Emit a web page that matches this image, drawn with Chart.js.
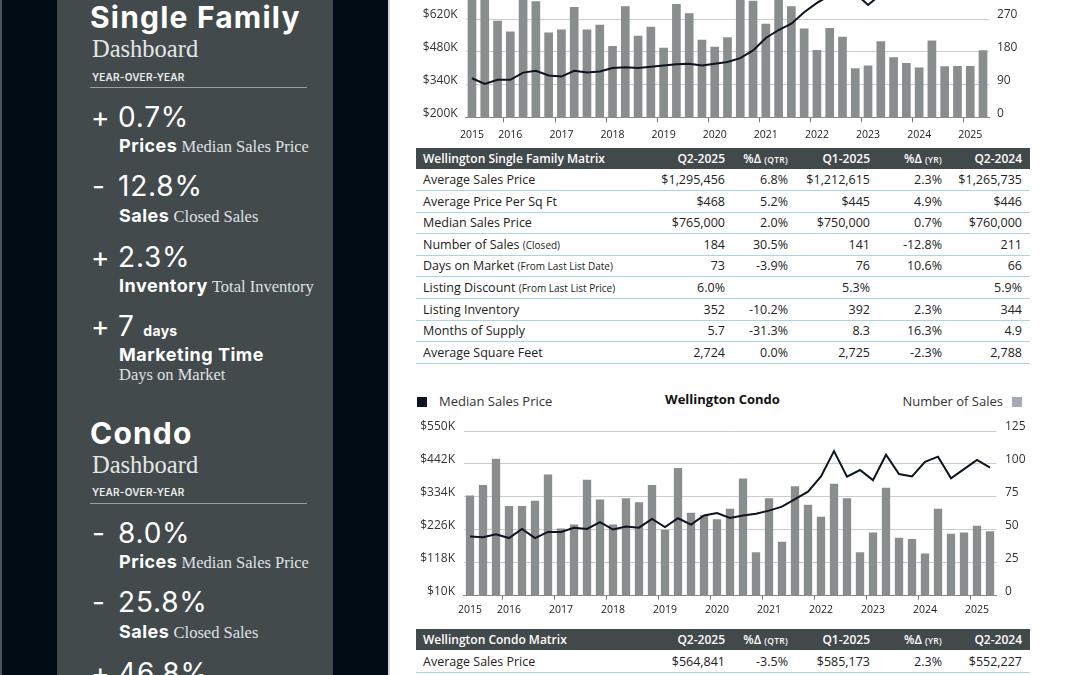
<!DOCTYPE html>
<html>
<head>
<meta charset="utf-8">
<title>Wellington Dashboard</title>
<script src="https://cdn.jsdelivr.net/npm/chart.js@4.4.1/dist/chart.umd.min.js"></script>
<style>
  html, body { margin: 0; padding: 0; }
  body { width: 1080px; height: 675px; overflow: hidden; position: relative; background: #fff; font-family: "Open Sans", sans-serif; color: #222; }
  .a { position: absolute; white-space: nowrap; line-height: 1.2; }
  #side { position: absolute; left: 0; top: 0; width: 388px; height: 675px; background: #010b14; }
  #lefte { position: absolute; left: 0; top: 0; width: 2px; height: 675px; background: #4c5256; }
  #edge { position: absolute; left: 388px; top: 0; width: 2px; height: 675px; background: #d3d6da; }
  #panel { position: absolute; left: 57px; top: 0; width: 276px; height: 675px; background: #434a4c; }
  .ttl { font-family: Inter, sans-serif; font-weight: 700; font-size: 30px; letter-spacing: 1.2px; color: #fff; }
  .dash { font-family: "Liberation Serif", serif; font-size: 24.5px; color: #e4e6e6; }
  .yoy { font-family: Inter, sans-serif; font-weight: 600; font-size: 10px; letter-spacing: .2px; color: #eceeee; }
  .rule { position: absolute; left: 90px; width: 217px; height: 1px; background: #9aa0a2; }
  .big { font-family: Inter, sans-serif; font-weight: 400; font-size: 28px; letter-spacing: .8px; color: #fff; }
  .lbl { font-family: Inter, sans-serif; font-weight: 700; font-size: 18px; letter-spacing: .5px; color: #fff; }
  .ser { font-family: "Liberation Serif", serif; font-size: 16.5px; letter-spacing: 0; color: #dfe2e2; }
  .days { font-family: Inter, sans-serif; font-weight: 700; font-size: 14px; letter-spacing: .3px; }
  .thead { position: absolute; left: 416px; width: 614px; height: 21px; background: #42494b; color: #fff; font-weight: 600; font-size: 12px; }
  .trow { position: absolute; left: 416px; width: 614px; height: 20.6px; border-bottom: 1px solid #a9d5e3; font-size: 12.5px; color: #222; }
  .thead .c { line-height: 21px; }
  .c { position: absolute; top: 0.5px; line-height: 20.6px; white-space: nowrap; }
  .sm { font-size: 10px; }
  .sc { font-size: 8.5px; letter-spacing: .3px; }
  .leg { font-size: 13px; color: #333; }
  .legt { font-size: 13px; font-weight: 700; color: #111; }
  canvas { position: absolute; }
</style>
</head>
<body>
<div id="side"></div>
<div id="lefte"></div>
<div id="panel"></div>
<div id="edge"></div>

<!-- single family side panel -->
<div class="a ttl" style="left:90px" data-bl="28.3">Single Family</div>
<div class="a dash" style="left:92px" data-bl="57.3">Dashboard</div>
<div class="a yoy" style="left:92px" data-bl="81">YEAR-OVER-YEAR</div>
<div class="rule" style="top:87px"></div>
<div class="a big" style="left:91px" data-bl="126.7">+</div>
<div class="a big" style="left:118px" data-bl="126.7">0.7%</div>
<div class="a" style="left:119px" data-bl="152.3"><span class="lbl">Prices</span> <span class="ser">Median Sales Price</span></div>
<div class="a big" style="left:92px" data-bl="196.3">-</div>
<div class="a big" style="left:118px" data-bl="196.3">12.8%</div>
<div class="a" style="left:119px" data-bl="221.7"><span class="lbl">Sales</span> <span class="ser">Closed Sales</span></div>
<div class="a big" style="left:91px" data-bl="266.7">+</div>
<div class="a big" style="left:118px" data-bl="266.7">2.3%</div>
<div class="a" style="left:119px" data-bl="291.7"><span class="lbl">Inventory</span> <span class="ser">Total Inventory</span></div>
<div class="a big" style="left:91px" data-bl="336">+</div>
<div class="a big" style="left:118px" data-bl="336">7 <span class="days">days</span></div>
<div class="a lbl" style="left:119px" data-bl="361">Marketing Time</div>
<div class="a ser" style="left:119px" data-bl="380">Days on Market</div>

<!-- condo side panel -->
<div class="a ttl" style="left:90px" data-bl="444.3">Condo</div>
<div class="a dash" style="left:92px" data-bl="473.3">Dashboard</div>
<div class="a yoy" style="left:92px" data-bl="496">YEAR-OVER-YEAR</div>
<div class="rule" style="top:503px"></div>
<div class="a big" style="left:92px" data-bl="542.7">-</div>
<div class="a big" style="left:118px" data-bl="542.7">8.0%</div>
<div class="a" style="left:119px" data-bl="568.3"><span class="lbl">Prices</span> <span class="ser">Median Sales Price</span></div>
<div class="a big" style="left:92px" data-bl="612.3">-</div>
<div class="a big" style="left:118px" data-bl="612.3">25.8%</div>
<div class="a" style="left:119px" data-bl="637.7"><span class="lbl">Sales</span> <span class="ser">Closed Sales</span></div>
<div class="a big" style="left:91px" data-bl="682.5">+</div>
<div class="a big" style="left:118px" data-bl="682.5">46.8%</div>

<!-- charts -->
<canvas id="sfChart" width="620" height="225" style="left:410px;top:-80px;width:620px;height:225px"></canvas>

<div style="position:absolute;left:417px;top:396.5px;width:10px;height:10px;background:#0b1520"></div>
<div class="a leg" style="left:439px" data-bl="405.5">Median Sales Price</div>
<div class="a legt" style="left:722.5px;transform:translateX(-50%)" data-bl="404">Wellington Condo</div>
<div class="a leg" style="right:77px" data-bl="405.5">Number of Sales</div>
<div style="position:absolute;left:1012px;top:397px;width:10px;height:10px;background:#a3aab2"></div>
<canvas id="condoChart" width="620" height="205" style="left:410px;top:415px;width:620px;height:205px"></canvas>

<div id="tables"></div>

<script>
// quarters on the x axis
const quarters = [
  '2015 Q2', '2015 Q3', '2015 Q4',
  '2016 Q1', '2016 Q2', '2016 Q3', '2016 Q4',
  '2017 Q1', '2017 Q2', '2017 Q3', '2017 Q4',
  '2018 Q1', '2018 Q2', '2018 Q3', '2018 Q4',
  '2019 Q1', '2019 Q2', '2019 Q3', '2019 Q4',
  '2020 Q1', '2020 Q2', '2020 Q3', '2020 Q4',
  '2021 Q1', '2021 Q2', '2021 Q3', '2021 Q4',
  '2022 Q1', '2022 Q2', '2022 Q3', '2022 Q4',
  '2023 Q1', '2023 Q2', '2023 Q3', '2023 Q4',
  '2024 Q1', '2024 Q2', '2024 Q3', '2024 Q4',
  '2025 Q1', '2025 Q2'
];

// single family: number of sales (right axis) and median price in $K (left axis)
const sfSales = [330, 345, 265,
  236, 336, 319, 233,
  241, 303, 241, 254,
  196, 305, 224, 249,
  191, 311, 286, 213,
  194, 220, 352, 320,
  257, 340, 305, 244,
  185, 245, 221, 135,
  142, 209, 165, 149,
  137, 211, 140, 141,
  141, 184];
const sfPrice = [367, 343, 360,
  360, 391, 399, 379,
  374, 399, 391, 396,
  411, 414, 411, 416,
  421, 427, 429, 421,
  429, 436, 453, 486,
  539, 573, 600, 649,
  689, 720, 740, 730,
  680, 725, 745, 740,
  760, 760, 755, 770,
  750, 765];

// condo
const condoSales = [76, 84, 104,
  68, 68, 72, 92,
  51, 54, 88, 73,
  54, 74, 71, 84,
  50, 97, 63, 61,
  58, 66, 89, 33,
  74, 41, 83, 69,
  60, 85, 74, 33,
  48, 82, 44, 43,
  32, 66, 47, 48,
  53, 49];
const condoPrice = [204, 202, 211,
  199, 229, 199, 219,
  219, 233, 229, 251,
  227, 237, 233, 262,
  235, 264, 243, 273,
  281, 265, 273, 279,
  289, 302, 327, 351,
  401, 484, 400, 422,
  389, 472, 409, 401,
  449, 466, 395, 425,
  455, 430];

// tables
const matrixCols = ['Q2-2025', '%Δ|QTR', 'Q1-2025', '%Δ|YR', 'Q2-2024'];
const sfRowLabels = ['Average Sales Price|', 'Average Price Per Sq Ft|', 'Median Sales Price|',
  'Number of Sales|(Closed)', 'Days on Market|(From Last List Date)', 'Listing Discount|(From Last List Price)',
  'Listing Inventory|', 'Months of Supply|', 'Average Square Feet|'];
const sfQ22025 = ['$1,295,456', '$468', '$765,000', '184', '73', '6.0%', '352', '5.7', '2,724'];
const sfQtrChg = ['6.8%', '5.2%', '2.0%', '30.5%', '-3.9%', '', '-10.2%', '-31.3%', '0.0%'];
const sfQ12025 = ['$1,212,615', '$445', '$750,000', '141', '76', '5.3%', '392', '8.3', '2,725'];
const sfYrChg = ['2.3%', '4.9%', '0.7%', '-12.8%', '10.6%', '', '2.3%', '16.3%', '-2.3%'];
const sfQ22024 = ['$1,265,735', '$446', '$760,000', '211', '66', '5.9%', '344', '4.9', '2,788'];

const condoRowLabels = ['Average Sales Price|'];
const condoQ22025 = ['$564,841'];
const condoQtrChg = ['-3.5%'];
const condoQ12025 = ['$585,173'];
const condoYrChg = ['2.3%'];
const condoQ22024 = ['$552,227'];

const colRight = [305, 242, 160, 88, 8];   // distance of each column's right edge from table end

function headCell(txt) {
  const p = txt.split('|');
  return p.length > 1 ? p[0] + ' <span class="sc">(' + p[1] + ')</span>' : p[0];
}

function buildTable(top, title, labels, cols) {
  const box = document.getElementById('tables');
  let html = '<div class="thead" style="top:' + top + 'px"><div class="c" style="left:7px;top:0">' + title + '</div>';
  matrixCols.forEach((c, i) => {
    html += '<div class="c" style="right:' + colRight[i] + 'px;top:0">' + headCell(c) + '</div>';
  });
  html += '</div>';
  labels.forEach((lab, r) => {
    const p = lab.split('|');
    const y = top + 22 + r * 21.6;
    html += '<div class="trow" style="top:' + y + 'px"><div class="c" style="left:7px">' + p[0] +
      (p[1] ? ' <span class="sm">' + p[1] + '</span>' : '') + '</div>';
    cols.forEach((col, i) => {
      html += '<div class="c" style="right:' + colRight[i] + 'px">' + col[r] + '</div>';
    });
    html += '</div>';
  });
  box.insertAdjacentHTML('beforeend', html);
}

buildTable(147.5, 'Wellington Single Family Matrix', sfRowLabels, [sfQ22025, sfQtrChg, sfQ12025, sfYrChg, sfQ22024]);
buildTable(629, 'Wellington Condo Matrix', condoRowLabels, [condoQ22025, condoQtrChg, condoQ12025, condoYrChg, condoQ22024]);

// place text by its baseline
function placeText() {
  document.querySelectorAll('[data-bl]').forEach(el => {
    let m = el.querySelector('.blm');
    if (!m) {
      m = document.createElement('span');
      m.className = 'blm';
      m.style.cssText = 'display:inline-block;width:0;height:0;vertical-align:baseline';
      el.appendChild(m);
    }
    el.style.top = (parseFloat(el.dataset.bl) - m.offsetTop) + 'px';
  });
}

Chart.defaults.font.family = '"Open Sans", sans-serif';

const yearLabel = i => (i === 0 || i % 4 === 3) ? quarters[i].slice(0, 4) : '';

function makeChart(id, sales, price, o) {
  return new Chart(document.getElementById(id), {
    data: {
      labels: quarters,
      datasets: [
        { type: 'line', data: price, yAxisID: 'y', borderColor: '#0c1420', borderWidth: 2,
          pointRadius: 0, tension: 0, order: 0 },
        { type: 'bar', data: sales, yAxisID: 'y1', backgroundColor: '#8a8d8d',
          barPercentage: o.bar, categoryPercentage: 1, order: 1 }
      ]
    },
    options: {
      responsive: false,
      animation: false,
      layout: { padding: { top: o.padTop, left: 0, right: 0, bottom: 0 } },
      plugins: { legend: { display: false }, tooltip: { enabled: false } },
      scales: {
        x: {
          offset: true,
          grid: { drawOnChartArea: false, drawTicks: true, tickLength: o.tickLen,
            color: c => (c.index % 4 === 3) ? '#777' : 'rgba(0,0,0,0)' },
          border: { color: '#8c8c8c' },
          ticks: { autoSkip: false, maxRotation: 0, padding: o.xPad, color: '#222',
            font: { size: 10.5 }, callback: (v, i) => yearLabel(i) },
          afterFit: s => { s.height = o.xHeight; }
        },
        y: {
          position: 'left', min: o.min, max: o.max, z: 1,
          grid: { color: 'rgba(0,0,0,0.2)', drawTicks: false },
          border: { display: false },
          ticks: { stepSize: o.step, padding: o.lPad, labelOffset: -4, color: '#333',
            font: { size: 12 }, callback: v => '$' + v + 'K' },
          afterFit: s => { s.width = o.lw; }
        },
        y1: {
          position: 'right', min: 0, max: o.max1,
          grid: { display: false, drawTicks: false },
          border: { display: false },
          ticks: { stepSize: o.step1, padding: o.rPad, labelOffset: -4, color: '#333',
            font: { size: 12 } },
          afterFit: s => { s.width = o.rw; }
        }
      }
    }
  });
}

makeChart('sfChart', sfSales, sfPrice, {
  bar: 0.68, padTop: 33.5, tickLen: 5, xPad: 6, xHeight: 27.7,
  min: 200, max: 900, step: 140, max1: 450, step1: 90,
  lw: 55.6, rw: 40.6, lPad: 8, rPad: 7.5
});

makeChart('condoChart', condoSales, condoPrice, {
  bar: 0.64, padTop: 16, tickLen: 4, xPad: 4, xHeight: 24.3,
  min: 10, max: 550, step: 108, max1: 125, step1: 25,
  lw: 53.5, rw: 33.5, lPad: 8.5, rPad: 8.5
});

placeText();
if (document.fonts) document.fonts.ready.then(placeText);
</script>
</body>
</html>
